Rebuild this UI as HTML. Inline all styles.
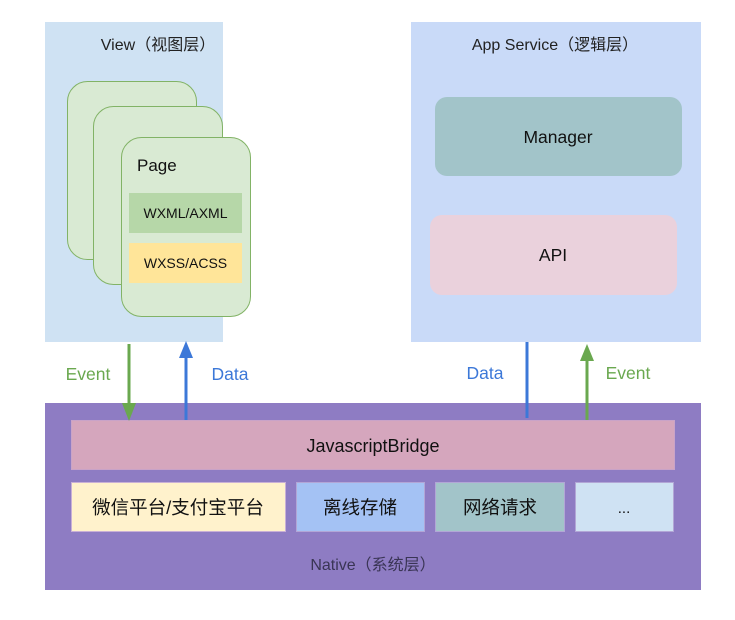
<!DOCTYPE html>
<html><head><meta charset="utf-8"><style>body{margin:0;background:#fff}svg{display:block}text{font-family:"Liberation Sans","Noto Sans CJK SC",sans-serif}</style></head><body>
<svg width="735" height="620" viewBox="0 0 735 620" xmlns="http://www.w3.org/2000/svg">
<rect x="45" y="22" width="178" height="320" fill="#cfe2f3"/>
<text x="158" y="50" font-size="16" text-anchor="middle" fill="#222">View（视图层）</text>
<rect x="67.5" y="81.5" width="129" height="178" rx="20" fill="#d9ead3" stroke="#82b366"/>
<rect x="93.5" y="106.5" width="129" height="178" rx="20" fill="#d9ead3" stroke="#82b366"/>
<rect x="121.5" y="137.5" width="129" height="179" rx="20" fill="#d9ead3" stroke="#82b366"/>
<text x="137" y="171" font-size="17" fill="#111">Page</text>
<rect x="129" y="193" width="113" height="40" fill="#b6d7a8"/>
<text x="185.5" y="218" font-size="14" text-anchor="middle" fill="#111">WXML/AXML</text>
<rect x="129" y="243" width="113" height="40" fill="#ffe599"/>
<text x="185.5" y="268" font-size="14" text-anchor="middle" fill="#111">WXSS/ACSS</text>

<rect x="411" y="22" width="290" height="320" fill="#c9daf8"/>
<text x="555" y="50" font-size="16" text-anchor="middle" fill="#222">App Service（逻辑层）</text>
<rect x="435" y="97" width="247" height="79" rx="12" fill="#a2c4c9"/>
<text x="558" y="143" font-size="17.5" text-anchor="middle" fill="#111">Manager</text>
<rect x="430" y="215" width="247" height="80" rx="12" fill="#ead1dc"/>
<text x="553" y="261" font-size="17.5" text-anchor="middle" fill="#111">API</text>

<rect x="45" y="403" width="656" height="187" fill="#8e7cc3"/>
<rect x="71.5" y="420.5" width="603" height="49" fill="#d5a6bd" stroke="#c9a3c8"/>
<text x="373" y="452" font-size="18" text-anchor="middle" fill="#111">JavascriptBridge</text>
<rect x="71.5" y="482.5" width="214" height="49" fill="#fff2cc" stroke="#c9b0d6"/>
<text x="178" y="514" font-size="18.5" text-anchor="middle" fill="#111">微信平台/支付宝平台</text>
<rect x="296.5" y="482.5" width="128" height="49" fill="#a4c2f4" stroke="#b2a6d6"/>
<text x="360" y="514" font-size="18.5" text-anchor="middle" fill="#111">离线存储</text>
<rect x="435.5" y="482.5" width="129" height="49" fill="#a2c4c9" stroke="#b2a6d6"/>
<text x="500" y="514" font-size="18.5" text-anchor="middle" fill="#111">网络请求</text>
<rect x="575.5" y="482.5" width="98" height="49" fill="#cfe2f3" stroke="#b2a6d6"/>
<text x="624" y="513" font-size="15" text-anchor="middle" fill="#111">...</text>
<text x="373" y="570" font-size="16" text-anchor="middle" fill="#3a3555">Native（系统层）</text>

<line x1="129" y1="344" x2="129" y2="406" stroke="#6aa84f" stroke-width="3"/>
<polygon points="122,403 136,403 129,421" fill="#6aa84f"/>
<line x1="186" y1="420" x2="186" y2="355" stroke="#3c78d8" stroke-width="3"/>
<polygon points="179,358 193,358 186,341" fill="#3c78d8"/>
<line x1="527" y1="342" x2="527" y2="418" stroke="#3c78d8" stroke-width="3"/>
<line x1="587" y1="420" x2="587" y2="358" stroke="#6aa84f" stroke-width="3"/>
<polygon points="580,361 594,361 587,344" fill="#6aa84f"/>
<text x="88" y="380" font-size="17.5" text-anchor="middle" fill="#6aa84f">Event</text>
<text x="230" y="380" font-size="17.5" text-anchor="middle" fill="#3c78d8">Data</text>
<text x="485" y="379" font-size="17.5" text-anchor="middle" fill="#3c78d8">Data</text>
<text x="628" y="379" font-size="17.5" text-anchor="middle" fill="#6aa84f">Event</text>
</svg>
</body></html>
